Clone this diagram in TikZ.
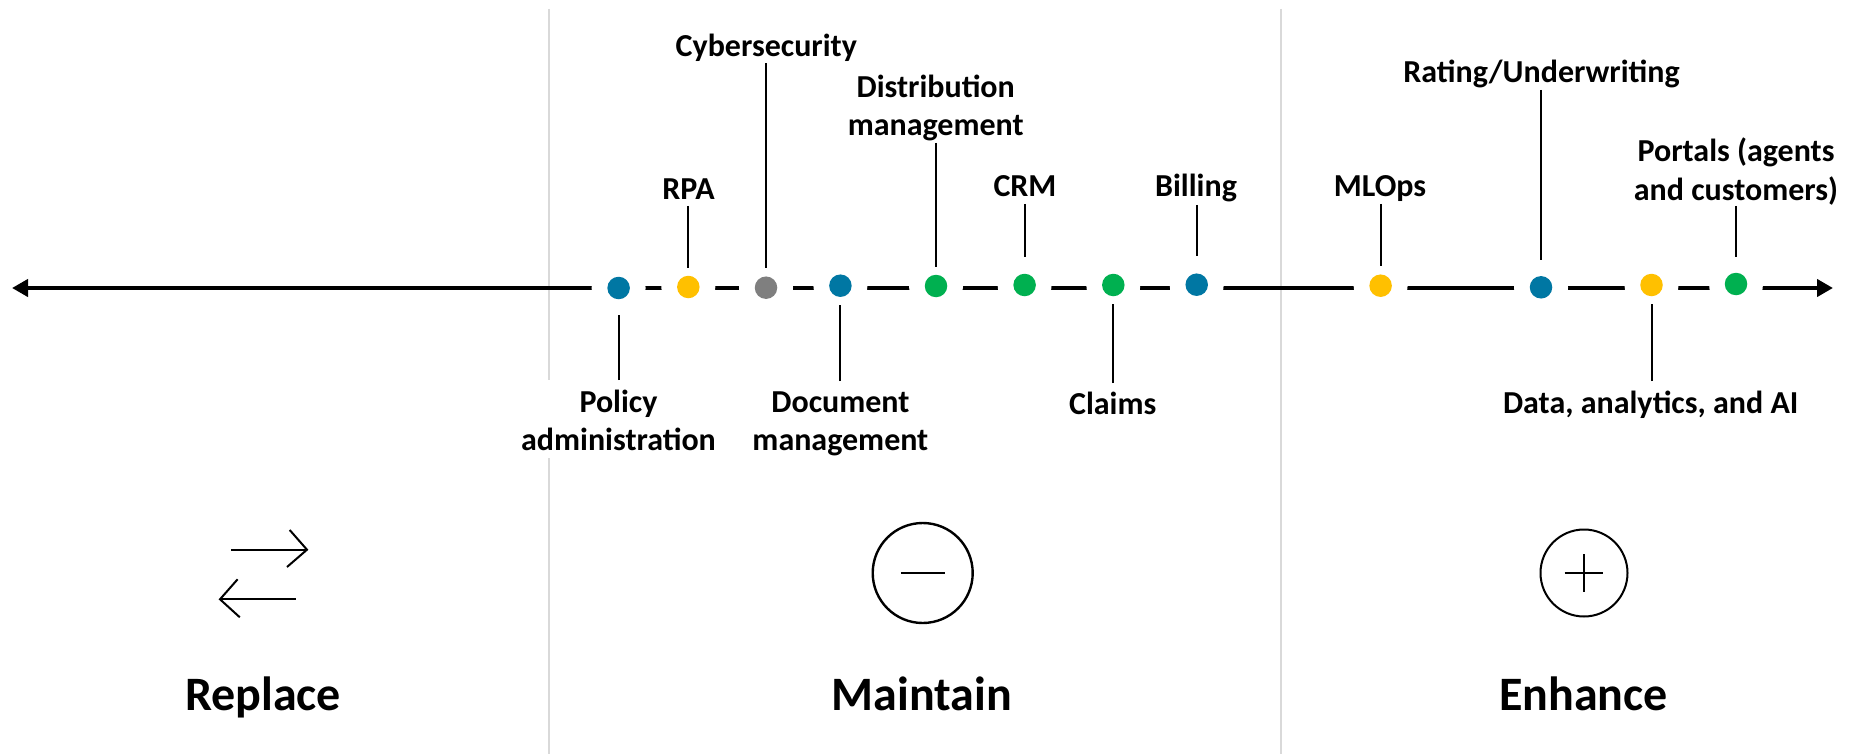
\documentclass[tikz,border=0pt]{standalone}
\usepackage{fontspec}
\setmainfont{Carlito}
\usetikzlibrary{arrows.meta}
\definecolor{dotblue}{HTML}{0077A3}
\definecolor{dotyellow}{HTML}{FFC000}
\definecolor{dotgray}{HTML}{7F7F7F}
\definecolor{dotgreen}{HTML}{00B050}
\definecolor{gridgray}{HTML}{D9D9D9}
\tikzset{
  gridline/.style={draw=gridgray,line width=2pt},
  axis/.style={draw=black,line width=4pt,{Triangle[length=16pt,width=17pt]}-{Triangle[length=16pt,width=17pt]}},
  dot/.style={circle,minimum size=22.5pt,inner sep=0pt,outer sep=8pt,draw=none},
  leader/.style={draw=black,line width=2pt},
  lab/.style={font=\fontsize{32}{37.8}\selectfont\bfseries,align=center,anchor=base,inner sep=0pt,text=black},
  big/.style={font=\fontsize{48}{54}\selectfont\bfseries,anchor=base,inner sep=0pt,text=black},
  icon/.style={draw=black,line width=2pt},
  iconcircle/.style={circle,draw=black,line width=2.4pt,inner sep=0pt,fill=white},
}
\begin{document}
\begin{tikzpicture}[x=1pt,y=-1pt]
\useasboundingbox (0,0) rectangle (1857,754);
% column separators
\coordinate (ga) at (549.3,9);
\coordinate (gb) at (549.3,379.5);
\coordinate (gc) at (549.3,458);
\coordinate (gd) at (549.3,754);
\coordinate (ge) at (1280.5,9);
\coordinate (gf) at (1280.5,754);
\draw[gridline] (ga) -- (gb);
\draw[gridline] (gc) -- (gd);
\draw[gridline] (ge) -- (gf);
% dot positions
\coordinate (p1) at (618.6,288);
\coordinate (p2) at (688.3,287);
\coordinate (p3) at (766,287.7);
\coordinate (p4) at (840.4,285.7);
\coordinate (p5) at (936,286);
\coordinate (p6) at (1024.6,285);
\coordinate (p7) at (1113.3,285);
\coordinate (p8) at (1196.7,284.7);
\coordinate (p9) at (1380.6,285.7);
\coordinate (p10) at (1541,287.3);
\coordinate (p11) at (1651.5,285);
\coordinate (p12) at (1736,284);
% axis
\coordinate (axl) at (12,288);
\coordinate (axr) at (1833,288);
\draw[axis] (axl) -- (axr);
\foreach \p in {p1,p2,p3,p4,p5,p6,p7,p8,p9,p10,p11,p12}
  \fill[white] (\p) circle (27);
% dots
\node[dot,fill=dotblue]   (d1)  at (p1)  {};
\node[dot,fill=dotyellow] (d2)  at (p2)  {};
\node[dot,fill=dotgray]   (d3)  at (p3)  {};
\node[dot,fill=dotblue]   (d4)  at (p4)  {};
\node[dot,fill=dotgreen]  (d5)  at (p5)  {};
\node[dot,fill=dotgreen]  (d6)  at (p6)  {};
\node[dot,fill=dotgreen]  (d7)  at (p7)  {};
\node[dot,fill=dotblue]   (d8)  at (p8)  {};
\node[dot,fill=dotyellow] (d9)  at (p9)  {};
\node[dot,fill=dotblue]   (d10) at (p10) {};
\node[dot,fill=dotyellow] (d11) at (p11) {};
\node[dot,fill=dotgreen]  (d12) at (p12) {};
% labels (anchored at the baseline of the last line)
\node[lab] (t1)  at (618.5,450)    {Policy\\administration};
\node[lab] (t2)  at (688.5,199.2)  {RPA};
\node[lab] (t3)  at (766.3,56.2)   {Cybersecurity};
\node[lab] (t4)  at (840.4,450.2)  {Document\\management};
\node[lab] (t5)  at (935.7,135.2)  {Distribution\\management};
\node[lab] (t6)  at (1025,196.2)   {CRM};
\node[lab] (t7)  at (1112.7,414.5) {Claims};
\node[lab] (t8)  at (1196,196.2)   {Billing};
\node[lab] (t9)  at (1380,196.2)   {MLOps};
\node[lab] (t10) at (1541.6,82.2)  {Rating/Underwriting};
\node[lab] (t11) at (1650.7,413)   {Data, analytics, and AI};
\node[lab] (t12) at (1736,200.5)   {Portals (agents\\[1.6pt]and customers)};
% leader free ends
\coordinate (l1)  at (618.6,380);
\coordinate (l2)  at (688.3,206);
\coordinate (l3)  at (766,63.5);
\coordinate (l4)  at (840.4,381);
\coordinate (l5)  at (936,143);
\coordinate (l6)  at (1024.6,204);
\coordinate (l7)  at (1113.3,383);
\coordinate (l8)  at (1196.7,205);
\coordinate (l9)  at (1380.6,204);
\coordinate (l10) at (1541,90);
\coordinate (l11) at (1651.5,381);
\coordinate (l12) at (1736,206);
\draw[leader,shorten >=8pt] (l1) -- (d1);
\draw[leader] (l2) -- (d2);
\draw[leader] (l3) -- (d3);
\draw[leader] (l4) -- (d4);
\draw[leader] (l5) -- (d5);
\draw[leader,shorten >=9pt] (l6) -- (d6);
\draw[leader] (l7) -- (d7);
\draw[leader,shorten >=9pt] (l8) -- (d8);
\draw[leader] (l9) -- (d9);
\draw[leader,shorten >=8pt] (l10) -- (d10);
\draw[leader] (l11) -- (d11);
\draw[leader,shorten >=8pt] (l12) -- (d12);
% replace icon
\coordinate (ra) at (231,549.7);
\coordinate (rb) at (307,549.7);
\coordinate (rc) at (289.7,530);
\coordinate (rd) at (287,567);
\coordinate (re) at (295.7,599.3);
\coordinate (rf) at (220,599.3);
\coordinate (rg) at (237.6,579.3);
\coordinate (rh) at (239.8,617.3);
\draw[icon] (ra) -- (rb);
\draw[icon,line join=miter] (rc) -- (rb) -- (rd);
\draw[icon] (re) -- (rf);
\draw[icon,line join=miter] (rg) -- (rf) -- (rh);
% maintain icon
\node[iconcircle,minimum size=100pt] (cm) at (922.7,573) {};
\coordinate (ma) at (900.8,573);
\coordinate (mb) at (945,573);
\draw[icon,line width=2.6pt] (ma) -- (mb);
% enhance icon
\node[iconcircle,minimum size=87pt,line width=2pt] (cp) at (1584,573) {};
\coordinate (pa) at (1564.7,573);
\coordinate (pb) at (1603,573);
\coordinate (pc) at (1584,554);
\coordinate (pd) at (1584,592);
\draw[icon] (pa) -- (pb);
\draw[icon] (pc) -- (pd);
% column titles
\node[big] (rt) at (263,710)    {Replace};
\node[big] (mt) at (921.7,710)  {Maintain};
\node[big] (et) at (1583.5,710) {Enhance};
\end{tikzpicture}
\end{document}
